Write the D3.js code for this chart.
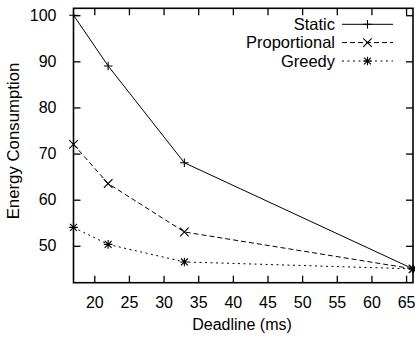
<!DOCTYPE html>
<html>
<head>
<meta charset="utf-8">
<script src="https://cdn.jsdelivr.net/npm/d3@7"></script>
<style>
  html, body { margin: 0; padding: 0; background: #fff; }
  svg { display: block; }
  text { font-family: "Liberation Sans", Arial, Helvetica, sans-serif; fill: #000; }
</style>
</head>
<body>
<svg id="chart" width="415" height="339"></svg>
<script>
// Deadline values (ms) and energy for each scheduling policy
const deadlines = [17, 22, 33, 66];
const staticEnergy = [100, 89, 68, 45];
const proportionalEnergy = [72, 63.5, 53, 45];
const greedyEnergy = [54, 50.3, 46.5, 45];

const xTicks = [20, 25, 30, 35, 40, 45, 50, 55, 60, 65];
const yTicks = [50, 60, 70, 80, 90, 100];

const seriesNames = ["Static", "Proportional", "Greedy"];
const seriesValues = [staticEnergy, proportionalEnergy, greedyEnergy];
const dashes = [null, "5,3", "2,3.5"];
const markers = ["plus", "cross", "star"];

const svg = d3.select("#chart");
const plotLeft = 73.5, plotRight = 413, plotTop = 8.3, plotBottom = 282.7;

const x = d3.scaleLinear().domain([17, 66]).range([plotLeft, plotRight]);
const y = d3.scaleLinear().domain([42, 101.5]).range([plotBottom, plotTop]);

const tickLen = 7;

// frame
svg.append("rect")
  .attr("x", plotLeft).attr("y", plotTop)
  .attr("width", plotRight - plotLeft).attr("height", plotBottom - plotTop)
  .attr("fill", "none").attr("stroke", "#000").attr("stroke-width", 1.6);

// inward ticks on all four sides
const bottomAxis = d3.axisBottom(x).tickValues(xTicks).tickSize(-tickLen).tickPadding(14).tickFormat(d3.format("d"));
const gx = svg.append("g").attr("transform", `translate(0,${plotBottom})`).call(bottomAxis);
gx.select(".domain").remove();
gx.selectAll("text").attr("font-size", 16).attr("dy", "0.71em");

const topAxis = d3.axisTop(x).tickValues(xTicks).tickSize(-tickLen).tickFormat("");
const gxt = svg.append("g").attr("transform", `translate(0,${plotTop})`).call(topAxis);
gxt.select(".domain").remove();

const leftAxis = d3.axisLeft(y).tickValues(yTicks).tickSize(-tickLen).tickPadding(17).tickFormat(d3.format("d"));
const gy = svg.append("g").attr("transform", `translate(${plotLeft},0)`).call(leftAxis);
gy.select(".domain").remove();
gy.selectAll("text").attr("font-size", 16);

const rightAxis = d3.axisRight(y).tickValues(yTicks).tickSize(-tickLen).tickFormat("");
const gyr = svg.append("g").attr("transform", `translate(${plotRight},0)`).call(rightAxis);
gyr.select(".domain").remove();

svg.selectAll(".tick line").attr("stroke", "#000").attr("stroke-width", 1.3);

// axis titles
svg.append("text")
  .attr("x", 242).attr("y", 330)
  .attr("text-anchor", "middle").attr("font-size", 16)
  .text("Deadline (ms)");

svg.append("text")
  .attr("transform", "translate(19,141) rotate(-90)")
  .attr("text-anchor", "middle").attr("font-size", 16.8)
  .text("Energy Consumption");

// point symbols
function drawMarker(g, kind, cx, cy) {
  const s = 4.3;
  const p = d3.path();
  if (kind === "plus" || kind === "star") {
    p.moveTo(cx - s, cy); p.lineTo(cx + s, cy);
    p.moveTo(cx, cy - s); p.lineTo(cx, cy + s);
  }
  if (kind === "cross" || kind === "star") {
    const d = kind === "star" ? s * 0.8 : s;
    p.moveTo(cx - d, cy - d); p.lineTo(cx + d, cy + d);
    p.moveTo(cx - d, cy + d); p.lineTo(cx + d, cy - d);
  }
  g.append("path").attr("d", p.toString())
    .attr("stroke", "#000").attr("stroke-width", 1.1).attr("fill", "none");
}

const line = d3.line().x(d => x(d[0])).y(d => y(d[1]));

seriesValues.forEach((vals, i) => {
  const pts = deadlines.map((d, j) => [d, vals[j]]);
  const g = svg.append("g");
  g.append("path").datum(pts)
    .attr("d", line)
    .attr("fill", "none").attr("stroke", "#000").attr("stroke-width", 1)
    .attr("stroke-dasharray", dashes[i]);
  pts.forEach(p => drawMarker(g, markers[i], x(p[0]), y(p[1])));
});

// legend
const legendRows = [24.3, 42.6, 61];
seriesNames.forEach((name, i) => {
  const ly = legendRows[i];
  svg.append("text")
    .attr("x", 335).attr("y", ly + 5.8)
    .attr("text-anchor", "end").attr("font-size", 16.5)
    .text(name);
  const g = svg.append("g");
  g.append("line")
    .attr("x1", 342).attr("x2", 393).attr("y1", ly).attr("y2", ly)
    .attr("stroke", "#000").attr("stroke-width", 1)
    .attr("stroke-dasharray", dashes[i]);
  drawMarker(g, markers[i], 367.5, ly);
});
</script>
</body>
</html>
